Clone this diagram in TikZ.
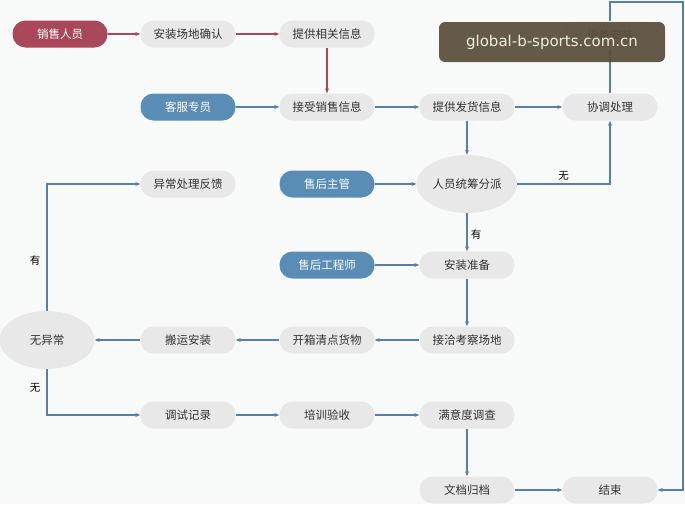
\documentclass[tikz,border=0pt]{standalone}
\usepackage{fontspec}
\setmainfont{Noto Sans CJK SC}
\usetikzlibrary{arrows.meta,shapes.geometric}
\begin{document}
\begin{tikzpicture}[x=1pt,y=-1pt,
  font=\fontsize{11.5}{13}\selectfont,
  box/.style={rounded corners=13pt,minimum width=95pt,minimum height=27pt,fill=gray!18,text=black!80,inner sep=1pt},
  oval/.style={ellipse,minimum width=95pt,minimum height=58pt,fill=gray!18,text=black!80,inner sep=1pt},
  redbox/.style={box,fill=mred,text=white},
  bluebox/.style={box,fill=mblue,text=white},
  ln/.style={draw=mline,line width=1.2pt,-{Stealth[length=5pt,width=4pt]}},
  rln/.style={ln,draw=mred}]
\definecolor{mred}{HTML}{A8485A}
\definecolor{mblue}{HTML}{5A8DB5}
\definecolor{mline}{HTML}{5B7FA0}
\fill[fill={rgb,255:red,248;green,250;blue,249}] (0,0) rectangle (685,504);
\useasboundingbox (0,0) rectangle (685,504);
\node[redbox] (xs) at (60,34) {销售人员};
\node[box] (az) at (188,34) {安装场地确认};
\node[box] (tg) at (327,34) {提供相关信息};
\node[box] (sb) at (610,35) {设备安装};
\node[bluebox] (kf) at (188,107) {客服专员};
\node[box] (js) at (327,107) {接受销售信息};
\node[box] (fh) at (467,107) {提供发货信息};
\node[box] (xt) at (610,107) {协调处理};
\node[box] (yc) at (188,184) {异常处理反馈};
\node[bluebox] (zg) at (327,184) {售后主管};
\node[oval] (tc) at (467,184) {人员统筹分派};
\node[bluebox] (gcs) at (327,265) {售后工程师};
\node[box] (zb) at (467,265) {安装准备};
\node[oval] (wy) at (47,340) {无异常};
\node[box] (by) at (188,340) {搬运安装};
\node[box] (kx) at (327,340) {开箱清点货物};
\node[box] (jq) at (467,340) {接洽考察场地};
\node[box] (ts) at (188,415) {调试记录};
\node[box] (px) at (327,415) {培训验收};
\node[box] (my) at (467,415) {满意度调查};
\node[box] (wd) at (467,490) {文档归档};
\node[box] (js2) at (610,490) {结束};
\draw[rln] (xs) -- (az);
\draw[rln] (az) -- (tg);
\draw[rln] (tg) -- (js);
\draw[ln] (kf) -- (js);
\draw[ln] (js) -- (fh);
\draw[ln] (fh) -- (xt);
\draw[ln] (fh) -- (tc);
\draw[ln] (tc.east) -- (610,184) node[midway,above,font=\fontsize{10.5}{12}\selectfont] {无} -- (xt);
\draw[ln] (xt) -- (sb);
\coordinate (c1) at (610,2);
\coordinate (c2) at (683,2);
\coordinate (c3) at (683,490);
\draw[ln] (sb.north) -- (c1) -- (c2) -- (c3) -- (js2);
\draw[ln] (zg) -- (tc);
\draw[ln] (tc) -- (zb) node[pos=0.55,right,font=\fontsize{10.5}{12}\selectfont] {有};
\draw[ln] (gcs) -- (zb);
\draw[ln] (zb) -- (jq);
\draw[ln] (jq) -- (kx);
\draw[ln] (kx) -- (by);
\draw[ln] (by) -- (wy);
\draw[ln] (wy.north) -- (47,184) -- (yc);
\draw[ln] (wy.south) -- (47,415) -- (ts);
\node[font=\fontsize{10.5}{12}\selectfont] (l1) at (35,260) {有};
\node[font=\fontsize{10.5}{12}\selectfont] (l2) at (35,388) {无};
\draw[ln] (ts) -- (px);
\draw[ln] (px) -- (my);
\draw[ln] (my) -- (wd);
\draw[ln] (wd) -- (js2);
\node[rounded corners=6pt,fill={rgb,255:red,90;green,78;blue,60},fill opacity=0.93,text opacity=1,text={rgb,255:red,235;green,240;blue,215},minimum width=226pt,minimum height=40pt,font=\fontsize{15}{18}\selectfont\fontspec{DejaVu Sans}] (wm) at (552,42) {global-b-sports.com.cn};
\end{tikzpicture}
\end{document}
